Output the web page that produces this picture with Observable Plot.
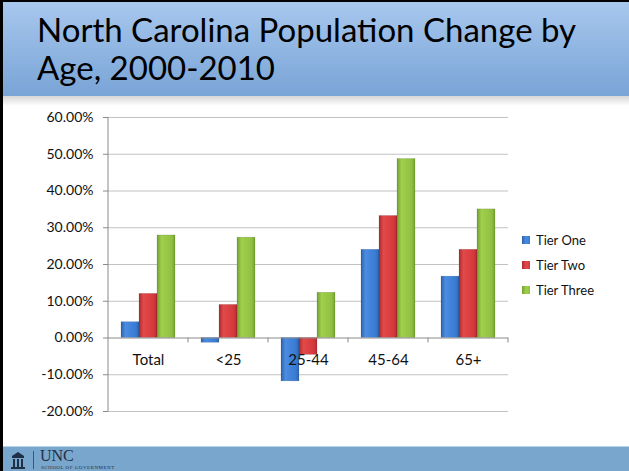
<!DOCTYPE html>
<html><head><meta charset="utf-8">
<script src="https://cdn.jsdelivr.net/npm/d3@7"></script>
<script src="https://cdn.jsdelivr.net/npm/@observablehq/plot@0.6"></script>
<style>
body{margin:0;background:#fff;}
#slide{position:relative;width:629px;height:471px;overflow:hidden;background:#fff;font-family:Lato,"Open Sans",sans-serif;}
#title{position:absolute;left:0;top:0;width:629px;height:96px;background:linear-gradient(#a9c8ee,#79a4d6);}
#title .t{position:absolute;left:37px;top:10px;font-size:33px;line-height:38px;color:#000;white-space:nowrap;}
#shadow{position:absolute;left:0;top:96px;width:629px;height:10px;background:linear-gradient(rgba(0,0,0,0.16),rgba(0,0,0,0));}
#bl{position:absolute;left:0;top:0;width:3px;height:471px;background:#000;}
#bt{position:absolute;left:0;top:0;width:629px;height:2px;background:#000;}
#footer{position:absolute;left:0;top:446px;width:629px;height:25px;background:#78a6cd;border-top:1px solid #b9d2e6;}
#chart{position:absolute;left:0;top:100px;}
#legend{position:absolute;left:522px;top:227px;font-size:13px;color:#111;}
#legend .row{display:flex;align-items:center;height:25px;}
#legend .sw{width:8px;height:8px;margin-right:6px;}
#unc{position:absolute;left:40px;top:448px;font-family:"Liberation Serif","DejaVu Serif",serif;font-size:16px;color:#1f2f45;line-height:15px;}
#sog{position:absolute;left:41px;top:465px;font-family:"Liberation Serif",serif;font-size:5px;line-height:5px;letter-spacing:0.5px;color:#1f2f45;}
#sep{position:absolute;left:33px;top:451px;width:1px;height:18px;background:#3d5673;}
</style></head>
<body><div id="slide">
<div id="title"><div class="t">North Carolina Population Change by<br>Age, 2000-2010</div></div>
<div id="shadow"></div>
<div id="chart"></div>
<div id="legend"></div>
<div id="footer"></div>
<svg style="position:absolute;left:11px;top:451px" width="14" height="18" viewBox="0 0 14 18">
<path d="M1 5 L7 1 L13 5 Z" fill="#1f2f45"/><rect x="1" y="5" width="12" height="2" fill="#1f2f45"/>
<rect x="2" y="8" width="2" height="8" fill="#1f2f45"/><rect x="6" y="8" width="2" height="8" fill="#1f2f45"/><rect x="10" y="8" width="2" height="8" fill="#1f2f45"/>
<rect x="0" y="16" width="14" height="2" fill="#1f2f45"/></svg>
<div id="sep"></div>
<div id="unc">UNC</div>
<div id="sog">SCHOOL OF GOVERNMENT</div>
<div id="bl"></div><div id="bt"></div>
</div>
<script>
const categories = ["Total", "<25", "25-44", "45-64", "65+"];
const tiers = ["Tier One", "Tier Two", "Tier Three"];
const tierOne = [4.3, -1.3, -11.8, 24.0, 16.7];
const tierTwo = [12.0, 9.0, -4.6, 33.2, 24.0];
const tierThree = [27.9, 27.3, 12.3, 48.7, 35.0];
const yTicks = [-20, -10, 0, 10, 20, 30, 40, 50, 60];
const tierColors = ["#3a7bd3", "#d6393b", "#92c141"];
const gradIds = ["gOne", "gTwo", "gThree"];

const series = [tierOne, tierTwo, tierThree];
const rows = categories.flatMap((c, i) => tiers.map((t, j) => ({category: c, tier: t, value: series[j][i]})));
const fmt = d => d.toFixed(2) + "%";

const chart = Plot.plot({
  width: 629, height: 330,
  marginLeft: 108, marginRight: 121, marginTop: 17, marginBottom: 19,
  style: {background: "transparent", fontFamily: "Lato, sans-serif"},
  fx: {domain: categories, padding: 0, axis: null},
  x: {domain: tiers, paddingInner: 0, paddingOuter: 0.722, axis: null},
  y: {domain: [-20, 60], axis: null},
  color: {domain: tiers, range: gradIds.map(g => `url(#${g})`)},
  marks: [
    Plot.ruleY(yTicks.filter(t => t !== 0), {stroke: "#c2c2c2", strokeWidth: 1}),
    Plot.barY(rows, {fx: "category", x: "tier", y: "value", fill: "tier", stroke: "rgba(0,0,0,0.18)", strokeWidth: 0.6}),
    Plot.ruleY([0], {stroke: "#8a8a8a", strokeWidth: 1}),
    Plot.text(categories, {fx: d => d, y: () => 0, text: d => d, dy: 22, fontSize: 15, fill: "#111"}),
    Plot.axisY({ticks: yTicks, tickFormat: fmt, tickSize: 5, tickPadding: 10, label: null, fontSize: 14, stroke: "#8a8a8a", fill: "#111"})
  ]
});
document.getElementById("chart").appendChild(chart);

// gradients for bevelled bars
const svg = d3.select(chart);
const defs = svg.insert("defs", ":first-child");
const shades = [["#2c63ad", "#4a8ce2", "#2f68b5"], ["#b02a2c", "#e2494b", "#b52e30"], ["#74a12f", "#a0cf4c", "#76a331"]];
gradIds.forEach((id, i) => {
  const g = defs.append("linearGradient").attr("id", id).attr("x1", 0).attr("x2", 1).attr("y1", 0).attr("y2", 0);
  g.append("stop").attr("offset", "0%").attr("stop-color", shades[i][0]);
  g.append("stop").attr("offset", "25%").attr("stop-color", shades[i][1]);
  g.append("stop").attr("offset", "80%").attr("stop-color", tierColors[i]);
  g.append("stop").attr("offset", "100%").attr("stop-color", shades[i][2]);
});

// y axis line and category boundary ticks, positioned through Plot's scales
const fxs = chart.scale("fx"), ys = chart.scale("y");
const y0 = ys.apply(0), yTop = ys.apply(60), yBot = ys.apply(-20);
const left = fxs.apply(categories[0]);
svg.append("line").attr("x1", left).attr("x2", left).attr("y1", yTop).attr("y2", yBot).attr("stroke", "#8a8a8a");
categories.forEach(c => {
  const xr = fxs.apply(c) + fxs.bandwidth;
  svg.append("line").attr("x1", xr).attr("x2", xr).attr("y1", y0).attr("y2", y0 + 5).attr("stroke", "#8a8a8a");
});

// legend
const lg = d3.select("#legend");
tiers.forEach((t, i) => {
  const r = lg.append("div").attr("class", "row");
  r.append("div").attr("class", "sw").style("background", `linear-gradient(90deg, ${shades[i][0]}, ${shades[i][1]}, ${tierColors[i]})`);
  r.append("span").text(t);
});
</script>
</body></html>
